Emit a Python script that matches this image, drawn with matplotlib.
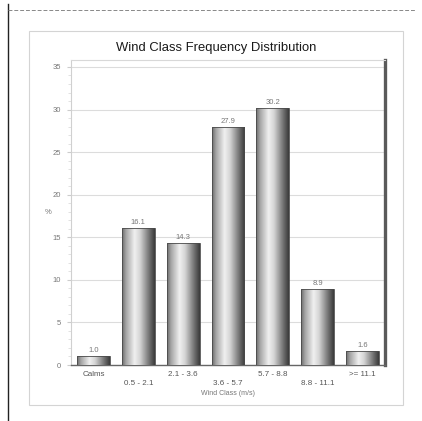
import numpy as np
import matplotlib
matplotlib.use('Agg')
import matplotlib.pyplot as plt
from matplotlib.colors import LinearSegmentedColormap
from matplotlib.patches import Rectangle
from matplotlib.lines import Line2D

categories = ['Calms', '0.5 - 2.1', '2.1 - 3.6', '3.6 - 5.7', '5.7 - 8.8', '8.8 - 11.1', '>= 11.1']
values = [1.0, 16.1, 14.3, 27.9, 30.2, 8.9, 1.6]
value_labels = ['1.0', '16.1', '14.3', '27.9', '30.2', '8.9', '1.6']
yticks = [0, 5, 10, 15, 20, 25, 30, 35]

W, H = 422, 421
fig = plt.figure(figsize=(W / 100, H / 100), dpi=100)
fig.patch.set_facecolor('white')

def fx(px):
    return px / W

def fy(py):
    return 1 - py / H

# outer page frame
fig.add_artist(Line2D([fx(8), fx(8)], [fy(4), fy(421)], color='#222222', lw=1.0))
fig.add_artist(Line2D([fx(8), fx(416)], [fy(10), fy(10)], color='#888888', lw=0.7, ls=(0, (4, 2))))
# chart box
fig.add_artist(Rectangle((fx(29), fy(405)), fx(403) - fx(29), fy(31) - fy(405),
                         transform=fig.transFigure, fill=False, edgecolor='#d4d4d4', lw=0.8))

left, right, top, bottom = 71, 385, 60, 365
ax = fig.add_axes([fx(left), fy(bottom), fx(right) - fx(left), fy(top) - fy(bottom)])
x = np.arange(len(categories))

bars = ax.bar(x, values, width=0.73, facecolor='none', edgecolor='#4a4a4a', linewidth=0.6, zorder=4)
grad = np.linspace(0, 1, 256).reshape(1, -1)
cmap = LinearSegmentedColormap.from_list('cyl', [(0, '#6a6a6a'), (0.12, '#a4a4a4'), (0.38, '#f0f0f0'),
                                                 (0.55, '#d4d4d4'), (0.85, '#6a6a6a'), (1, '#3a3a3a')])
for b in bars:
    x0, y0, w, h = b.get_x(), b.get_y(), b.get_width(), b.get_height()
    im = ax.imshow(grad, extent=[x0, x0 + w, y0, y0 + h], aspect='auto', cmap=cmap, zorder=3,
                   interpolation='bilinear')
    im.set_clip_path(b)

for xi, v, lab in zip(x, values, value_labels):
    ax.text(xi, v + 0.25, lab, ha='center', va='bottom', fontsize=5.5, color='#777777',
            family='Liberation Sans')

ax.set_xlim(-0.5, len(categories) - 0.5)
ax.set_ylim(0, 35.82)
ax.set_yticks(yticks)
ax.set_yticklabels([str(t) for t in yticks], fontsize=5.5, color='#777777', family='Liberation Sans')
ax.set_yticks(np.arange(0, 36, 1), minor=True)
ax.tick_params(axis='y', which='major', length=3, color='#cccccc', pad=4)
ax.tick_params(axis='y', which='minor', length=2, color='#dddddd')
ax.set_xticks(x)
ax.set_xticklabels([c if i % 2 == 0 else '\n' + c for i, c in enumerate(categories)],
                   fontsize=5.8, color='#555555', family='Liberation Sans', linespacing=1.5)
ax.tick_params(axis='x', length=0, pad=4)
ax.grid(axis='y', color='#dcdcdc', lw=0.8, zorder=0)
ax.set_axisbelow(True)

ax.spines['left'].set_color('#d0d0d0')
ax.spines['top'].set_color('#d8d8d8')
ax.spines['bottom'].set_color('#666666')
ax.spines['bottom'].set_linewidth(1.0)
ax.spines['right'].set_color('#5a5a5a')
ax.spines['right'].set_linewidth(2.4)

ax.set_xlabel('Wind Class (m/s)', fontsize=5, color='#777777', family='Liberation Sans', labelpad=2)
fig.text(fx(48), fy(212), '%', fontsize=5.5, color='#777777', ha='center', va='center',
         family='Liberation Sans')
fig.text(fx(216), fy(48), 'Wind Class Frequency Distribution', fontsize=9.4, color='#1a1a1a',
         ha='center', va='center', family='Liberation Sans')

fig.savefig('out.png', dpi=100)
